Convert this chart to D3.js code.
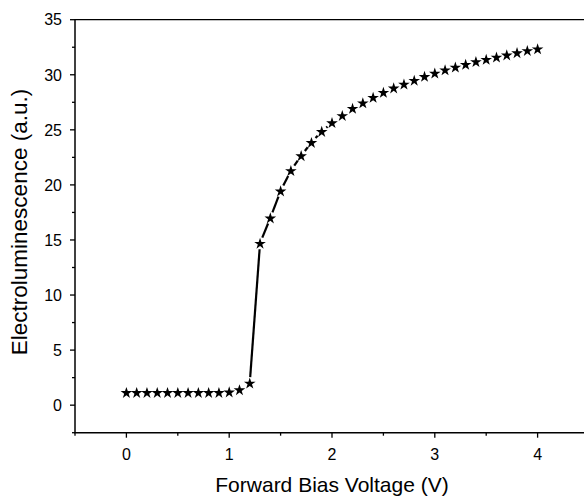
<!DOCTYPE html>
<html>
<head>
<meta charset="utf-8">
<script src="https://cdn.jsdelivr.net/npm/d3@7"></script>
<style>
html,body{margin:0;background:#fff;overflow:hidden;}
svg{display:block;overflow:hidden;font-family:"Liberation Sans",Arial,sans-serif;}
</style>
</head>
<body>
<div id="chart"></div>
<script>
// forward bias voltage (V) and electroluminescence (a.u.)
var voltage=[0,0.1,0.2,0.3,0.4,0.5,0.6,0.7,0.8,0.9,1.0,1.1,1.2,1.3,1.4,1.5,1.6,1.7,1.8,1.9,2.0,
             2.1,2.2,2.3,2.4,2.5,2.6,2.7,2.8,2.9,3.0,3.1,3.2,3.3,3.4,3.5,3.6,3.7,3.8,3.9,4.0];
var el=[1.15,1.15,1.15,1.15,1.15,1.15,1.15,1.15,1.15,1.15,1.2,1.4,2.0,14.7,17.0,19.45,21.3,22.65,23.85,24.85,25.65,
        26.3,26.95,27.45,27.95,28.4,28.8,29.15,29.5,29.85,30.15,30.45,30.7,30.95,31.2,31.4,31.6,31.8,32.0,32.2,32.35];
var xTicks=[0,1,2,3,4],xMinor=[-0.5,0.5,1.5,2.5,3.5];
var yTicks=[0,5,10,15,20,25,30,35],yMinor=[-2.5,2.5,7.5,12.5,17.5,22.5,27.5,32.5];

var W=584,H=498;
var x=d3.scaleLinear().domain([-0.5,4.5]).range([75,589]);
var y=d3.scaleLinear().domain([-2.5,35]).range([432.7,19.7]);

var svg=d3.select("#chart").append("svg")
    .attr("width",W).attr("height",H);

// frame top
svg.append("line").attr("x1",x(-0.5)).attr("x2",x(4.5)).attr("y1",y(35)).attr("y2",y(35))
   .attr("stroke","#000").attr("stroke-width",1.2);

// bottom axis
var xa=svg.append("g");
xa.selectAll("line.maj").data(xTicks).enter().append("line")
  .attr("x1",function(d){return x(d);}).attr("x2",function(d){return x(d);})
  .attr("y1",y(-2.5)).attr("y2",y(-2.5)+5).attr("stroke","#000").attr("stroke-width",1.3);
xa.selectAll("line.min").data(xMinor).enter().append("line")
  .attr("x1",function(d){return x(d);}).attr("x2",function(d){return x(d);})
  .attr("y1",y(-2.5)).attr("y2",y(-2.5)+3).attr("stroke","#000").attr("stroke-width",1.3);
xa.selectAll("text").data(xTicks).enter().append("text")
  .attr("x",function(d){return x(d);}).attr("y",460)
  .attr("text-anchor","middle").attr("font-size",16).attr("fill","#000")
  .text(function(d){return d;});
svg.append("line").attr("x1",x(-0.5)-0.7).attr("x2",x(4.5)).attr("y1",y(-2.5)).attr("y2",y(-2.5))
   .attr("stroke","#000").attr("stroke-width",1.5);

// left axis
var ya=svg.append("g");
ya.selectAll("line.maj").data(yTicks).enter().append("line")
  .attr("x1",x(-0.5)-5).attr("x2",x(-0.5))
  .attr("y1",function(d){return y(d);}).attr("y2",function(d){return y(d);})
  .attr("stroke","#000").attr("stroke-width",1.3);
ya.selectAll("line.min").data(yMinor).enter().append("line")
  .attr("x1",x(-0.5)-3).attr("x2",x(-0.5))
  .attr("y1",function(d){return y(d);}).attr("y2",function(d){return y(d);})
  .attr("stroke","#000").attr("stroke-width",1.3);
ya.selectAll("text").data(yTicks).enter().append("text")
  .attr("x",62).attr("y",function(d){return y(d);}).attr("dy","0.36em")
  .attr("text-anchor","end").attr("font-size",16).attr("fill","#000")
  .text(function(d){return d;});
svg.append("line").attr("x1",x(-0.5)).attr("x2",x(-0.5)).attr("y1",y(35)-0.6).attr("y2",y(-2.5))
   .attr("stroke","#000").attr("stroke-width",1.5);

// axis titles
svg.append("text").attr("x",(x(-0.5)+x(4.5))/2).attr("y",492)
   .attr("text-anchor","middle").attr("font-size",21).attr("fill","#000")
   .text("Forward Bias Voltage (V)");
svg.append("text").attr("transform","translate(27,222) rotate(-90)")
   .attr("text-anchor","middle").attr("font-size",22.5).attr("fill","#000")
   .text("Electroluminescence (a.u.)");

// line segments with a gap around each symbol
var pts=voltage.map(function(v,i){return [x(v),y(el[i])];});
var gap=6;
var segs=[];
for(var i=0;i<pts.length-1;i++){
  var a=pts[i],b=pts[i+1];
  var dx=b[0]-a[0],dy=b[1]-a[1],len=Math.sqrt(dx*dx+dy*dy);
  if(len>2*gap+1){
    var ux=dx/len,uy=dy/len;
    segs.push([a[0]+ux*gap,a[1]+uy*gap,b[0]-ux*gap,b[1]-uy*gap]);
  }
}
svg.append("g").selectAll("line").data(segs).enter().append("line")
   .attr("x1",function(d){return d[0];}).attr("y1",function(d){return d[1];})
   .attr("x2",function(d){return d[2];}).attr("y2",function(d){return d[3];})
   .attr("stroke","#000").attr("stroke-width",2.2);

// star symbols
svg.append("g").selectAll("path").data(voltage).enter().append("path")
   .attr("transform",function(d,i){return "translate("+x(d)+","+(y(el[i])+0.5)+")";})
   .attr("d",d3.symbol().type(d3.symbolStar).size(42))
   .attr("fill","#000");
</script>
</body>
</html>
